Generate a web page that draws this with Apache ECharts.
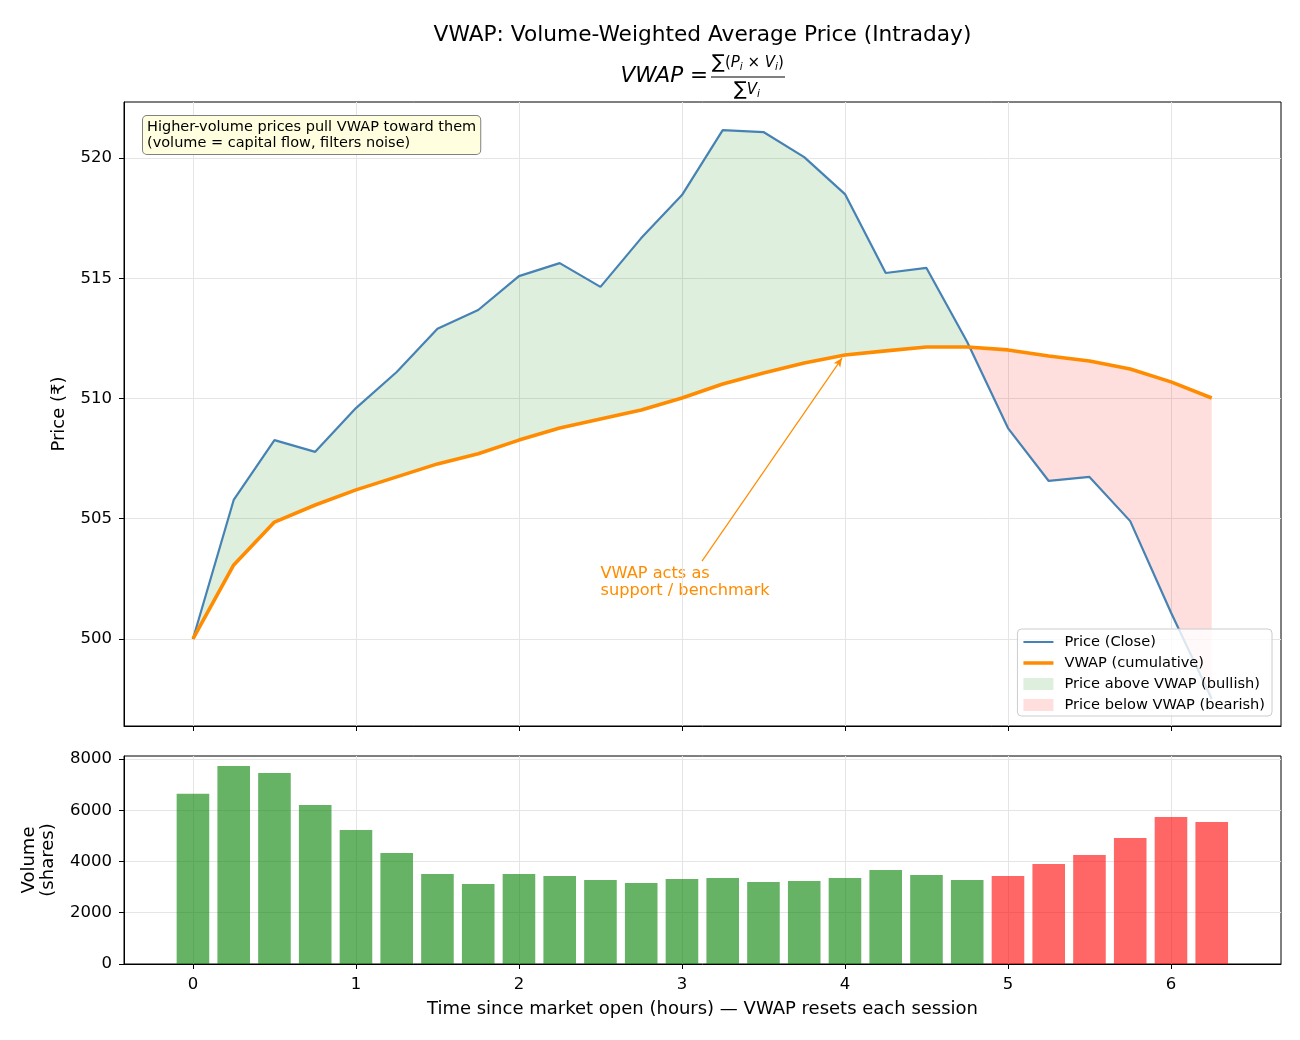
<!DOCTYPE html>
<html>
<head>
<meta charset="utf-8">
<script src="https://cdn.jsdelivr.net/npm/echarts@6/dist/echarts.min.js"></script>
<style>html,body{margin:0;padding:0;background:#fff}#main{width:1300px;height:1040px}</style>
</head>
<body>
<div id="main"></div>
<script>
// time since open (hours), 15-min bars
const times = [0, 0.25, 0.5, 0.75, 1, 1.25, 1.5, 1.75, 2, 2.25, 2.5, 2.75, 3, 3.25, 3.5, 3.75, 4, 4.25, 4.5, 4.75, 5, 5.25, 5.5, 5.75, 6, 6.25]
const price = [500.0, 505.78, 508.27, 507.78, 509.6, 511.1, 512.9, 513.68, 515.09, 515.63, 514.64, 516.67, 518.46, 521.16, 521.08, 520.04, 518.5, 515.22, 515.43, 512.35, 508.77, 506.57, 506.74, 504.9, 501.1, 497.5]
const vwap = [500.0, 503.08, 504.86, 505.57, 506.2, 506.74, 507.28, 507.7, 508.27, 508.77, 509.15, 509.52, 510.02, 510.6, 511.06, 511.48, 511.81, 511.98, 512.14, 512.14, 512.02, 511.77, 511.56, 511.23, 510.69, 510.02]
const volume = [6640, 7730, 7450, 6200, 5230, 4330, 3510, 3120, 3510, 3430, 3280, 3160, 3320, 3360, 3200, 3240, 3360, 3670, 3470, 3280, 3430, 3900, 4250, 4920, 5740, 5540]
const xTicks = [0, 1, 2, 3, 4, 5, 6]
const priceTicks = [500, 505, 510, 515, 520]
const volTicks = [0, 2000, 4000, 6000, 8000]

const FONT = 'DejaVu Sans'
const GRID_COLOR = '#e5e5e5'
const TICK_FS = 16.5
const n = times.length

// polygons between price and vwap, split where the lines cross
function regions (sign) {
  const on = d => sign > 0 ? d >= 0 : d < 0
  const polys = []
  let up = []
  let lo = []
  for (let i = 0; i < n; i++) {
    const d = price[i] - vwap[i]
    if (on(d)) { up.push([times[i], price[i]]); lo.push([times[i], vwap[i]]) }
    if (i < n - 1) {
      const d1 = price[i + 1] - vwap[i + 1]
      if (on(d) !== on(d1)) {
        const f = d / (d - d1)
        const tc = times[i] + f * (times[i + 1] - times[i])
        const yc = vwap[i] + f * (vwap[i + 1] - vwap[i])
        up.push([tc, yc]); lo.push([tc, yc])
        if (on(d)) { polys.push(up.concat(lo.reverse())); up = []; lo = [] }
      }
    }
  }
  if (up.length) polys.push(up.concat(lo.reverse()))
  return polys
}

function fillRender (sign, color) {
  const polys = regions(sign)
  return function (params, api) {
    return {
      type: 'group',
      children: polys.map(p => ({
        type: 'polygon',
        shape: { points: p.map(pt => api.coord(pt)) },
        style: { fill: color }
      }))
    }
  }
}

// legend swatch for a line: thin bar inside a 30x12 box
function lineIcon (w) {
  const a = 6 - w / 2
  const b = 6 + w / 2
  return 'path://M0,0 L0.01,0 L0,0.01 Z M0,' + a + ' L30,' + a + ' L30,' + b + ' L0,' + b + ' Z M30,12 L29.99,12 L30,11.99 Z'
}

const xMin = -0.423
const xMax = 6.675

function xAxisBase (idx, showLabels) {
  return {
    type: 'value',
    gridIndex: idx,
    min: xMin,
    max: xMax,
    axisLine: { show: true, onZero: false, lineStyle: { color: '#000' } },
    axisTick: { show: true, length: 5, customValues: xTicks, lineStyle: { color: '#000' } },
    axisLabel: { show: showLabels, customValues: xTicks, margin: 12, fontSize: TICK_FS, color: '#000', fontFamily: FONT },
    splitLine: { show: true, customValues: xTicks, lineStyle: { color: GRID_COLOR } }
  }
}

var myChart = echarts.init(document.getElementById('main'))

const option = {
  backgroundColor: '#fff',
  animation: false,
  textStyle: { fontFamily: FONT },
  grid: [
    { left: 124, right: 19, top: 102, height: 624, show: true, borderColor: '#000', borderWidth: 1 },
    { left: 124, right: 19, top: 756, height: 208, show: true, borderColor: '#000', borderWidth: 1 }
  ],
  xAxis: [
    xAxisBase(0, false),
    Object.assign(xAxisBase(1, true), {
      name: 'Time since market open (hours) — VWAP resets each session',
      nameLocation: 'middle',
      nameGap: 36,
      nameTextStyle: { fontSize: 18, color: '#000', fontFamily: FONT, verticalAlign: 'top' }
    })
  ],
  yAxis: [
    {
      type: 'value',
      gridIndex: 0,
      min: 496.38,
      max: 522.33,
      name: 'Price (₹)',
      nameLocation: 'middle',
      nameGap: 56,
      nameTextStyle: { fontSize: 18, color: '#000', fontFamily: FONT },
      axisLine: { show: true, onZero: false, lineStyle: { color: '#000' } },
      axisTick: { show: true, length: 5, customValues: priceTicks, lineStyle: { color: '#000' } },
      axisLabel: { customValues: priceTicks, margin: 12, fontSize: TICK_FS, color: '#000', fontFamily: FONT },
      splitLine: { show: true, customValues: priceTicks, lineStyle: { color: GRID_COLOR } }
    },
    {
      type: 'value',
      gridIndex: 1,
      min: 0,
      max: 8117,
      name: 'Volume\n(shares)',
      nameLocation: 'middle',
      nameGap: 66,
      nameTextStyle: { fontSize: 18, color: '#000', fontFamily: FONT, lineHeight: 19 },
      axisLine: { show: true, onZero: false, lineStyle: { color: '#000' } },
      axisTick: { show: true, length: 5, customValues: volTicks, lineStyle: { color: '#000' } },
      axisLabel: { customValues: volTicks, margin: 12, fontSize: TICK_FS, color: '#000', fontFamily: FONT, formatter: v => String(v) },
      splitLine: { show: true, customValues: volTicks, lineStyle: { color: GRID_COLOR } }
    }
  ],
  legend: {
    orient: 'vertical',
    right: 28,
    top: 629,
    itemWidth: 30,
    itemHeight: 12,
    itemGap: 5,
    padding: [5, 7, 3, 6],
    backgroundColor: 'rgba(255,255,255,0.8)',
    borderColor: '#cccccc',
    borderWidth: 1,
    borderRadius: 4,
    textStyle: { fontSize: 14.6, lineHeight: 16, color: '#000', fontFamily: FONT, padding: [0, 0, 0, 6] },
    data: [
      { name: 'Price (Close)', icon: lineIcon(2.2) },
      { name: 'VWAP (cumulative)', icon: lineIcon(3.6) },
      { name: 'Price above VWAP (bullish)', icon: 'rect' },
      { name: 'Price below VWAP (bearish)', icon: 'rect' }
    ]
  },
  series: [
    {
      name: 'Price above VWAP (bullish)',
      type: 'custom',
      xAxisIndex: 0,
      yAxisIndex: 0,
      itemStyle: { color: 'rgba(0,128,0,0.13)' },
      renderItem: fillRender(1, 'rgba(0,128,0,0.13)'),
      data: [[times[0], price[0]]],
      z: 1
    },
    {
      name: 'Price below VWAP (bearish)',
      type: 'custom',
      xAxisIndex: 0,
      yAxisIndex: 0,
      itemStyle: { color: 'rgba(255,0,0,0.13)' },
      renderItem: fillRender(-1, 'rgba(255,0,0,0.13)'),
      data: [[times[0], price[0]]],
      z: 1
    },
    {
      name: 'Price (Close)',
      type: 'line',
      xAxisIndex: 0,
      yAxisIndex: 0,
      symbol: 'none',
      lineStyle: { color: '#4682b4', width: 2.2 },
      itemStyle: { color: '#4682b4' },
      data: times.map((t, i) => [t, price[i]]),
      z: 3
    },
    {
      name: 'VWAP (cumulative)',
      type: 'line',
      xAxisIndex: 0,
      yAxisIndex: 0,
      symbol: 'none',
      lineStyle: { color: '#ff8c00', width: 3.6 },
      itemStyle: { color: '#ff8c00' },
      data: times.map((t, i) => [t, vwap[i]]),
      markLine: {
        silent: true,
        symbol: ['none', 'arrow'],
        symbolSize: [6, 9],
        lineStyle: { color: '#ff8c00', width: 1.2, type: 'solid' },
        label: { show: false },
        data: [[{ coord: [3.123, 503.24] }, { coord: [3.982, 511.68] }]]
      },
      z: 4
    },
    {
      name: 'Volume',
      type: 'bar',
      xAxisIndex: 1,
      yAxisIndex: 1,
      barWidth: 32.6,
      data: times.map((t, i) => ({
        value: [t, volume[i]],
        itemStyle: { color: price[i] >= vwap[i] ? 'rgba(0,128,0,0.6)' : 'rgba(255,0,0,0.6)' }
      }))
    }
  ],
  graphic: [
    {
      type: 'text',
      x: 702.5,
      y: 35,
      style: { text: 'VWAP: Volume-Weighted Average Price (Intraday)', fontSize: 21.7, fontFamily: FONT, fill: '#000', align: 'center', verticalAlign: 'middle' }
    },
    {
      type: 'text',
      x: 708,
      y: 76,
      style: {
        text: '{i|VWAP}{n| =}',
        align: 'right',
        verticalAlign: 'middle',
        rich: {
          i: { fontSize: 21.5, fontStyle: 'italic', fontFamily: FONT, fill: '#000' },
          n: { fontSize: 21.5, fontFamily: FONT, fill: '#000' }
        }
      }
    },
    {
      type: 'text',
      x: 748,
      y: 63,
      style: {
        text: '{s|∑}{n|(}{i|P}{b|i}{n| × }{i|V}{b|i}{n|)}',
        align: 'center',
        verticalAlign: 'middle',
        rich: {
          s: { fontSize: 19, fontFamily: FONT, fill: '#000' },
          n: { fontSize: 15, fontFamily: FONT, fill: '#000' },
          i: { fontSize: 15, fontStyle: 'italic', fontFamily: FONT, fill: '#000' },
          b: { fontSize: 10.5, fontStyle: 'italic', fontFamily: FONT, fill: '#000', padding: [8, 0, 0, 0] }
        }
      }
    },
    {
      type: 'line',
      shape: { x1: 711, y1: 77, x2: 785, y2: 77 },
      style: { stroke: '#000', lineWidth: 1 }
    },
    {
      type: 'text',
      x: 747,
      y: 90,
      style: {
        text: '{s|∑}{i|V}{b|i}',
        align: 'center',
        verticalAlign: 'middle',
        rich: {
          s: { fontSize: 19, fontFamily: FONT, fill: '#000' },
          i: { fontSize: 15, fontStyle: 'italic', fontFamily: FONT, fill: '#000' },
          b: { fontSize: 10.5, fontStyle: 'italic', fontFamily: FONT, fill: '#000', padding: [8, 0, 0, 0] }
        }
      }
    },
    {
      type: 'text',
      x: 143,
      y: 116,
      z: 10,
      style: {
        text: 'Higher-volume prices pull VWAP toward them\n(volume = capital flow, filters noise)',
        fontSize: 14.5,
        lineHeight: 16,
        fontFamily: FONT,
        fill: '#000',
        backgroundColor: '#ffffe0',
        borderColor: '#808080',
        borderWidth: 1,
        borderRadius: 4,
        padding: [3, 4, 3, 4]
      }
    }
  ]
}

myChart.setOption(option)

// orange note, placed in data coords of the price panel
const notePos = myChart.convertToPixel({ gridIndex: 0 }, [2.5, 503.05])
myChart.setOption({
  graphic: option.graphic.concat([{
    type: 'text',
    x: notePos[0],
    y: notePos[1],
    style: {
      text: 'VWAP acts as\nsupport / benchmark',
      fontSize: 16.2,
      lineHeight: 17,
      fontFamily: FONT,
      fill: '#ff8c00'
    }
  }])
})
</script>
</body>
</html>
